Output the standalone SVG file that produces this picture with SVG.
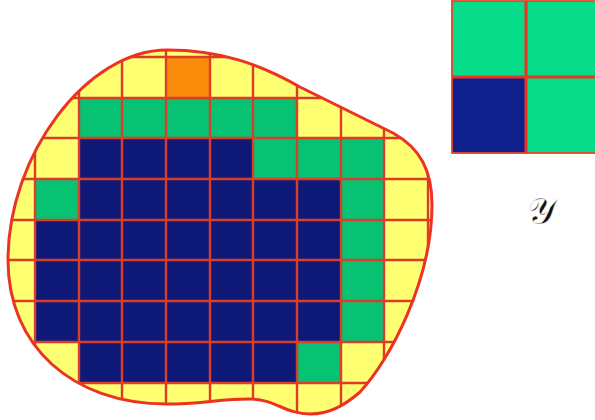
<svg xmlns="http://www.w3.org/2000/svg" width="595" height="420" viewBox="0 0 595 420">
<style>
.y{fill:#ffff72}
.o{fill:#fa8c0c}
.g{fill:#08c274}
.b{fill:#0f1a78}
.g2{fill:#06dc8a}
.b2{fill:#10208c}
.grid{stroke:#dc3c2a;stroke-width:2.4;fill:none}
.outline{fill:none;stroke:#ec3322;stroke-width:3}
.lbl{font-family:"DejaVu Serif","Liberation Serif",serif;font-size:37px;fill:#111;stroke:#fff;stroke-width:0.6}
</style>
<defs>
<path id="shape" d="M 167 50 C 220 50 260 64 300 87 L 393 133 C 420 148 432 170 432 205 C 432 280 390 360 360 392 C 345 405 330 414 310 414 C 285 414 275 399 250 399 C 220 399 200 404 167 404 C 72 404 8 346 8 260 C 8 155 87 50 167 50 Z"/>
<clipPath id="clip"><use href="#shape"/></clipPath>
</defs>
<g id="wafer">
<use href="#shape" class="y"/>
<g clip-path="url(#clip)">
<rect class="o" x="166" y="57" width="44" height="41"/>
<rect class="g" x="79" y="98" width="218" height="40"/>
<rect class="b" x="79" y="138" width="174" height="41"/>
<rect class="g" x="253" y="138" width="131" height="41"/>
<rect class="g" x="35" y="179" width="44" height="41"/>
<rect class="b" x="79" y="179" width="262" height="41"/>
<rect class="g" x="341" y="179" width="43" height="163"/>
<rect class="b" x="35" y="220" width="306" height="122"/>
<rect class="b" x="79" y="342" width="218" height="41"/>
<rect class="g" x="297" y="342" width="44" height="41"/>
<path class="grid" d="M35 0V420M79 0V420M122 0V420M166 0V420M210 0V420M253 0V420M297 0V420M341 0V420M384 0V420M428 0V420M0 57H440M0 98H440M0 138H440M0 179H440M0 220H440M0 260H440M0 301H440M0 342H440M0 383H440"/>
</g>
<use href="#shape" class="outline"/>
</g>
<g id="legend">
<rect class="g2" x="452" y="1" width="74" height="76"/>
<rect class="g2" x="526" y="1" width="70" height="76"/>
<rect class="b2" x="452" y="77" width="74" height="76"/>
<rect class="g2" x="526" y="77" width="70" height="76"/>
<rect x="452" y="1" width="150" height="152" fill="none" stroke="#e8442a" stroke-width="1.8"/>
<path d="M526 1V153M452 77H600" stroke="#ec3322" stroke-width="3" fill="none"/>
</g>
<text id="label" class="lbl" x="527" y="224">𝒴</text>
</svg>
